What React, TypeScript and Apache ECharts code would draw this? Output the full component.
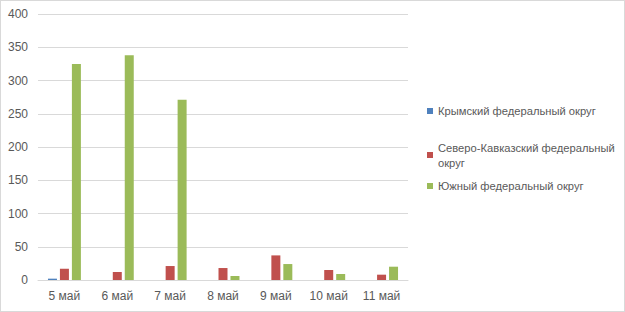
import React, { useEffect, useRef } from "react";
import * as echarts from "echarts";

const categories = ["5 май", "6 май", "7 май", "8 май", "9 май", "10 май", "11 май"];
const seriesNames = [
  "Крымский федеральный округ",
  "Северо-Кавказский федеральный округ",
  "Южный федеральный округ",
];
const legendLabels = [
  "Крымский федеральный округ",
  "Северо-Кавказский федеральный\nокруг",
  "Южный федеральный округ",
];
const crimea = [2, 0, 0, 0, 0, 0, 0];
const northCaucasus = [17, 12, 21, 18, 37, 15, 8];
const south = [325, 338, 271, 6, 24, 9, 20];
const colors = ["#4f81bd", "#c0504d", "#9bbb59"];
const yMin = 0;
const yMax = 400;
const yInterval = 50;

const FONT = "'Liberation Sans', Arial, sans-serif";
const TEXT = "#595959";

export default function App() {
  const ref = useRef<HTMLDivElement>(null);
  useEffect(() => {
    if (!ref.current) return;
    const chart = echarts.init(ref.current, undefined, { renderer: "svg" });
    const values = [crimea, northCaucasus, south];
    const legendTops = [103.5, 132.5, 178.5];
    chart.setOption({
      animation: false,
      textStyle: { fontFamily: FONT },
      grid: { left: 38, right: 217, top: 14, bottom: 32 },
      legend: seriesNames.map((n, i) => ({
        data: [n],
        orient: "vertical",
        left: 427,
        top: legendTops[i],
        width: 190,
        padding: 0,
        itemWidth: 6,
        itemHeight: 6,
        icon: "rect",
        selectedMode: false,
        formatter: () => legendLabels[i],
        textStyle: {
          color: TEXT,
          fontSize: 11.2,
          fontFamily: FONT,
          lineHeight: 15,
          padding: i === 1 ? [15, 0, 0, 0] : 0,
        },
      })),
      xAxis: {
        type: "category",
        data: categories,
        axisLine: { lineStyle: { color: "#d9d9d9" } },
        axisTick: { show: false },
        axisLabel: { color: TEXT, fontSize: 12, fontFamily: FONT, margin: 10 },
      },
      yAxis: {
        type: "value",
        min: yMin,
        max: yMax,
        interval: yInterval,
        axisLine: { show: false },
        axisTick: { show: false },
        axisLabel: { color: TEXT, fontSize: 12, fontFamily: FONT, margin: 10 },
        splitLine: { lineStyle: { color: "#d9d9d9" } },
      },
      series: seriesNames.map((n, i) => ({
        name: n,
        type: "bar",
        data: values[i],
        barWidth: 9,
        barGap: "33%",
        itemStyle: { color: colors[i] },
      })),
    });
    return () => chart.dispose();
  }, []);
  return (
    <div
      style={{
        position: "fixed",
        left: 0,
        top: 0,
        width: 625,
        height: 312,
        boxSizing: "border-box",
        border: "1px solid #d9d9d9",
        background: "#fff",
      }}
    >
      <div ref={ref} style={{ position: "absolute", left: -1, top: -1, width: 625, height: 312 }} />
    </div>
  );
}
